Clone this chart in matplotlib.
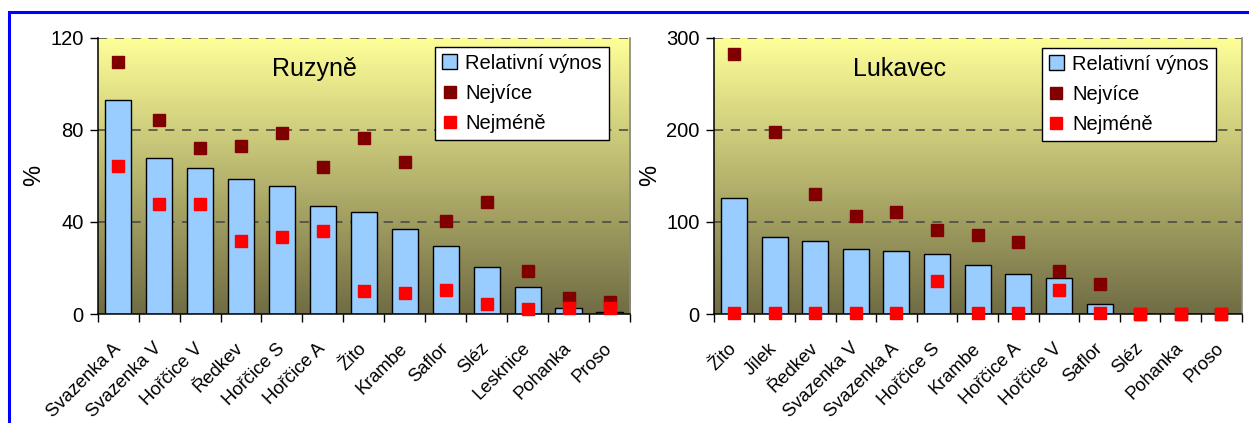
import numpy as np
import matplotlib
matplotlib.use("Agg")
import matplotlib.pyplot as plt
from matplotlib.lines import Line2D
from matplotlib.patches import Patch, Rectangle

plt.rcParams['font.family'] = ['Liberation Sans', 'DejaVu Sans']

# ---- data: Ruzyně ----
ruz_cats = ["Svazenka A", "Svazenka V", "Hořčice V", "Ředkev", "Hořčice S", "Hořčice A",
            "Žito", "Krambe", "Saflor", "Sléz", "Lesknice", "Pohanka", "Proso"]
ruz_rel = [92.9, 67.6, 63.5, 58.5, 55.6, 46.9, 44.2, 36.8, 29.5, 20.3, 11.6, 2.5, 1.0]
ruz_max = [109.6, 84.4, 72.1, 72.8, 78.6, 63.8, 76.6, 65.9, 40.3, 48.6, 18.7, 7.1, 5.3]
ruz_min = [64.3, 47.9, 47.6, 31.6, 33.4, 36.0, 9.8, 9.0, 10.3, 4.5, 2.0, 2.5, 2.5]
ruz_ticks = [0, 40, 80, 120]

# ---- data: Lukavec ----
luk_cats = ["Žito", "Jílek", "Ředkev", "Svazenka V", "Svazenka A", "Hořčice S", "Krambe",
            "Hořčice A", "Hořčice V", "Saflor", "Sléz", "Pohanka", "Proso"]
luk_rel = [126.3, 84.0, 79.6, 70.6, 68.8, 64.8, 53.2, 43.1, 38.8, 10.9, 0, 0, 0]
luk_max = [282, 197.6, 129.9, 106.4, 110.7, 91.2, 85.8, 78.5, 46.7, 32.2, 0.5, 0.5, 0.5]
luk_min = [1.5, 1.5, 1.5, 1.5, 1.5, 35.8, 1.5, 1.5, 25.7, 1.5, 0.5, 0.5, 0.5]
luk_ticks = [0, 100, 200, 300]

series_names = ["Relativní výnos", "Nejvíce", "Nejméně"]
titles = ["Ruzyně", "Lukavec"]

BAR_C = "#99CCFF"
MAX_C = "#800000"
MIN_C = "#FF0000"

W, H = 1249, 423
fig = plt.figure(figsize=(W / 100, H / 100), dpi=100)

# blue frame
fig.add_artist(Rectangle((9 / W, -0.1), 1.2, (H - 12) / H + 0.1, transform=fig.transFigure,
                         fill=False, edgecolor="#0000FF", linewidth=2.2, zorder=0))

grad = np.linspace(0, 1, 256)[:, None]
top = np.array([255, 255, 153]) / 255
bot = np.array([112, 108, 68]) / 255
img = top[None, None, :] * (1 - grad[:, :, None]) + bot[None, None, :] * grad[:, :, None]


def draw(rect, cats, rel, mx, mn, ticks, title, title_x, leg_bbox):
    ax = fig.add_axes(rect)
    n = len(cats)
    x = np.arange(n)
    ax.set_xlim(-0.5, n - 0.5)
    ax.set_ylim(0, ticks[-1])
    ax.imshow(img, extent=[0, 1, 0, 1], transform=ax.transAxes, aspect='auto', zorder=0)
    for t in ticks[1:]:
        ax.axhline(t, color="#444444", linestyle=(0, (6, 5)), linewidth=1.1, zorder=1)
    ax.bar(x, rel, width=0.64, color=BAR_C, edgecolor="black", linewidth=1.0, zorder=2)
    ax.plot(x, mx, linestyle="none", marker="s", markersize=8.8, color=MAX_C,
            markeredgecolor=MAX_C, zorder=3, clip_on=False)
    ax.plot(x, mn, linestyle="none", marker="s", markersize=8.8, color=MIN_C,
            markeredgecolor=MIN_C, zorder=4, clip_on=False)
    ax.set_yticks(ticks)
    ax.set_yticklabels([str(t) for t in ticks], fontsize=14.5)
    ax.tick_params(axis='y', direction='out', length=6, width=1, pad=4)
    ax.set_xticks(x)
    ax.set_xticklabels(cats, rotation=45, ha='right', va='center', rotation_mode='anchor',
                       fontsize=13.2)
    ax.tick_params(axis='x', which='major', length=0, pad=23)
    ax.set_xticks(np.arange(n + 1) - 0.5, minor=True)
    ax.tick_params(axis='x', which='minor', direction='out', length=6, width=1)
    ax.set_ylabel("%", fontsize=17, labelpad=4)
    for s in ['left', 'bottom']:
        ax.spines[s].set_color('black')
        ax.spines[s].set_linewidth(1.1)
    ax.spines['top'].set_visible(False)
    ax.spines['right'].set_color('#888888')
    ax.spines['right'].set_linewidth(1.2)
    ax.text(title_x, 0.885, title, transform=ax.transAxes, fontsize=18, ha='center', va='center')
    handles = [Patch(facecolor=BAR_C, edgecolor='black', linewidth=1.0),
               Line2D([], [], linestyle='none', marker='s', markersize=8.8, color=MAX_C),
               Line2D([], [], linestyle='none', marker='s', markersize=8.8, color=MIN_C)]
    leg = ax.legend(handles, series_names, loc='upper left', bbox_to_anchor=leg_bbox,
                    fontsize=14.5, frameon=True, fancybox=False, framealpha=1,
                    edgecolor='black', handlelength=0.75, handleheight=0.75, handletextpad=0.4,
                    borderpad=0.35, labelspacing=0.55, borderaxespad=0)
    leg.get_frame().set_linewidth(1.0)
    leg.set_zorder(10)
    return ax


draw([97.7 / W, 109 / H, 532.3 / W, 276.3 / H], ruz_cats, ruz_rel, ruz_max, ruz_min,
     ruz_ticks, titles[0], (314 - 97.7) / 532.3, ((435 - 97.7) / 532.3, (314 - 46.7) / 276.3))
draw([713.7 / W, 109 / H, 528 / W, 276.3 / H], luk_cats, luk_rel, luk_max, luk_min,
     luk_ticks, titles[1], (900 - 713.7) / 528, ((1041.7 - 713.7) / 528, (314 - 47.7) / 276.3))

fig.savefig("out.png", dpi=100)
